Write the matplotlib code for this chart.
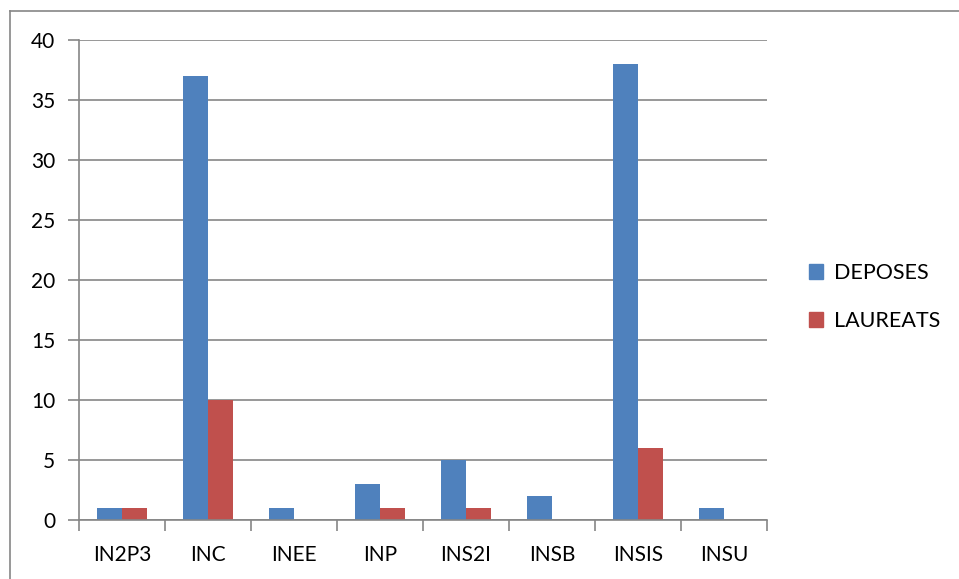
import numpy as np
import matplotlib.pyplot as plt
from matplotlib.lines import Line2D
from matplotlib.patches import Patch

plt.rcParams['font.family'] = ['Lato', 'DejaVu Sans']

categories = ['IN2P3', 'INC', 'INEE', 'INP', 'INS2I', 'INSB', 'INSIS', 'INSU']
deposes = [1, 37, 1, 3, 5, 2, 38, 1]
laureats = [1, 10, 0, 1, 1, 0, 6, 0]

BLUE = '#4F81BD'
RED = '#C0504D'
GRID = '#868686'

fig = plt.figure(figsize=(9.59, 5.79), dpi=100)
W, H = 959, 579
ax = fig.add_axes([79 / W, 59 / H, 688 / W, 480 / H])

x = np.arange(len(categories))
bw = 1 / 3.5
ax.bar(x - bw / 2, deposes, bw, color=BLUE, label='DEPOSES')
ax.bar(x + bw / 2, laureats, bw, color=RED, label='LAUREATS')

ax.set_xlim(-0.5, len(categories) - 0.5)
ax.set_ylim(0, 40)
ax.set_yticks(range(0, 41, 5))
ax.set_xticks(x)
ax.set_xticklabels(categories)
ax.set_xticks(np.arange(-0.5, len(categories)), minor=True)
ax.yaxis.grid(True, color=GRID, linewidth=1.2)
ax.set_axisbelow(True)

for s in ['top', 'right']:
    ax.spines[s].set_visible(False)
for s in ['left', 'bottom']:
    ax.spines[s].set_color(GRID)
    ax.spines[s].set_linewidth(1.2)

ax.tick_params(axis='y', length=8, color=GRID, width=1.2, labelsize=15, pad=9)
ax.tick_params(axis='x', which='major', length=0, labelsize=15, pad=18)
ax.tick_params(axis='x', which='minor', length=8, color=GRID, width=1.2)

handles = [Patch(color=BLUE), Patch(color=RED)]
fig.legend(handles, ['DEPOSES', 'LAUREATS'], loc='center left',
           bbox_to_anchor=(790 / W, 1 - 297 / H), frameon=False,
           fontsize=15.5, handlelength=0.65, handleheight=0.65,
           handletextpad=0.5, labelspacing=1.3)

# outer chart border (top and left visible)
fig.add_artist(Line2D([10 / W, 1], [1 - 11 / H, 1 - 11 / H], color=GRID, lw=1.2))
fig.add_artist(Line2D([10 / W, 10 / W], [0, 1 - 11 / H], color=GRID, lw=1.2))

fig.savefig('out.png', dpi=100)
